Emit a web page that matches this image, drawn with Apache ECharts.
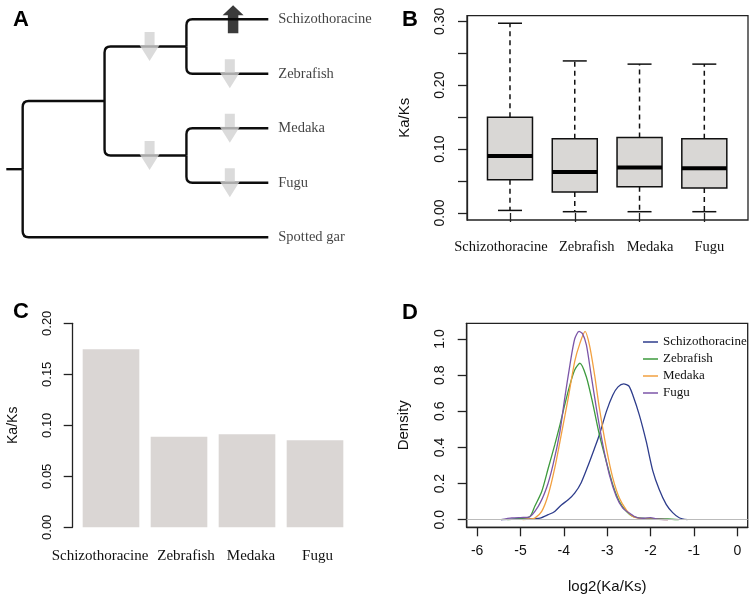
<!DOCTYPE html>
<html><head><meta charset="utf-8">
<script src="https://cdn.jsdelivr.net/npm/echarts@6/dist/echarts.min.js"></script>
<style>html,body{margin:0;padding:0;background:#fff}#c{width:752px;height:604px}</style>
</head><body><div id="c"></div>
<script>
// ================= DATA =================
const species = ['Schizothoracine', 'Zebrafish', 'Medaka', 'Fugu'];

// Panel A: phylogenetic tree (node index: parent, depth, tip order)
const treeNodeNames = ['root', 'ingroup', 'cyprinids', 'percomorphs', 'Schizothoracine', 'Zebrafish', 'Medaka', 'Fugu', 'Spotted gar'];
const treeParent = [-1, 0, 1, 1, 2, 2, 3, 3, 0];
const treeDepth = [0, 1, 2, 2, 3, 3, 3, 3, 3];
const treeTipOrder = [null, null, null, null, 0, 1, 2, 3, 4];
const rootStubDepth = -0.2;
// Arrows on branches (branch given by its child node)
const arrowNode = [2, 3, 5, 6, 7, 4];
const arrowDepth = [1.55, 1.55, 2.53, 2.53, 2.53, 2.57];
const arrowDir = ['down', 'down', 'down', 'down', 'down', 'up'];

// Panel B: boxplot statistics of Ka/Ks
const boxMin = [0.004, 0.002, 0.002, 0.002];
const boxQ1 = [0.052, 0.033, 0.041, 0.039];
const boxMedian = [0.089, 0.064, 0.071, 0.070];
const boxQ3 = [0.150, 0.116, 0.118, 0.116];
const boxMax = [0.297, 0.238, 0.233, 0.233];
const boxTicks = [0, 0.05, 0.10, 0.15, 0.20, 0.25, 0.30];
const boxTickLabels = [0, 0.10, 0.20, 0.30];

// Panel C: mean Ka/Ks
const meanKaKs = [0.1745, 0.0888, 0.0912, 0.0853];
const barTicks = [0, 0.05, 0.10, 0.15, 0.20];

// Panel D: density of log2(Ka/Ks)  [x, density]
const densSchizo = [[-5.45,0],[-5.1,0.004],[-4.8,0.006],[-4.55,0.009],[-4.36,0.028],[-4.21,0.046],[-4.05,0.083],[-3.9,0.11],[-3.75,0.147],[-3.6,0.205],[-3.44,0.3],[-3.3,0.39],[-3.18,0.47],[-3.02,0.598],[-2.87,0.69],[-2.75,0.735],[-2.62,0.752],[-2.5,0.74],[-2.41,0.69],[-2.26,0.58],[-2.1,0.433],[-1.95,0.272],[-1.8,0.167],[-1.64,0.085],[-1.49,0.039],[-1.34,0.011],[-1.15,0]];
const densZebra = [[-5.3,0],[-5.0,0.006],[-4.78,0.018],[-4.67,0.074],[-4.51,0.156],[-4.36,0.285],[-4.21,0.414],[-4.09,0.525],[-3.98,0.635],[-3.86,0.746],[-3.75,0.829],[-3.63,0.866],[-3.48,0.79],[-3.33,0.64],[-3.18,0.47],[-3.02,0.322],[-2.87,0.193],[-2.72,0.101],[-2.56,0.046],[-2.41,0.018],[-2.2,0.008],[-1.9,0.006],[-1.6,0.004],[-1.35,0]];
const densMedaka = [[-4.95,0],[-4.8,0.004],[-4.67,0.009],[-4.51,0.046],[-4.36,0.138],[-4.21,0.285],[-4.06,0.47],[-3.9,0.672],[-3.75,0.875],[-3.63,0.976],[-3.51,1.042],[-3.41,0.967],[-3.29,0.80],[-3.18,0.617],[-3.02,0.396],[-2.87,0.23],[-2.72,0.12],[-2.56,0.055],[-2.41,0.018],[-2.2,0.006],[-1.9,0.003],[-1.6,0]];
const densFugu = [[-5.45,0],[-5.2,0.01],[-5.0,0.012],[-4.82,0.013],[-4.59,0.074],[-4.4,0.175],[-4.25,0.304],[-4.09,0.488],[-3.98,0.672],[-3.86,0.856],[-3.75,1.0],[-3.65,1.042],[-3.57,1.03],[-3.48,0.967],[-3.37,0.80],[-3.25,0.617],[-3.1,0.414],[-2.95,0.249],[-2.79,0.129],[-2.64,0.064],[-2.49,0.037],[-2.33,0.013],[-2.15,0.008],[-2.0,0.012],[-1.85,0.004],[-1.6,0]];
const densXTicks = [-6, -5, -4, -3, -2, -1, 0];
const densYTicks = [0, 0.2, 0.4, 0.6, 0.8, 1.0];

// ================= STYLE =================
const SANS = '"Liberation Sans", Arial, Helvetica, sans-serif';
const SERIF = '"Liberation Serif", "Times New Roman", serif';
const INK = '#111111';
const densColors = ['#2E3D8C', '#3D9A3D', '#F2A040', '#7C56A8'];

// ---- derived tree geometry (in data units) ----
const treeY = treeNodeNames.map(() => 0);
for (let i = treeNodeNames.length - 1; i >= 0; i--) {
  if (treeTipOrder[i] !== null) { treeY[i] = treeTipOrder[i]; continue; }
  const ys = [];
  treeParent.forEach((p, j) => { if (p === i) ys.push(treeY[j]); });
  treeY[i] = (Math.min(...ys) + Math.max(...ys)) / 2;
}
const treeEdges = [[rootStubDepth, treeY[0], treeDepth[0], treeY[0]]];
treeParent.forEach((p, j) => { if (p >= 0) treeEdges.push([treeDepth[p], treeY[p], treeDepth[j], treeY[j]]); });
const tipPoints = [];
treeTipOrder.forEach((t, i) => { if (t !== null) tipPoints.push({ name: treeNodeNames[i], value: [treeDepth[i], treeY[i]] }); });

const downArrow = 'path://M5,0 L15,0 L15,13 L20,13 L10,29 L0,13 L5,13 Z';
const upArrow = 'path://M10,0 L20,10 L15,10 L15,28 L5,28 L5,10 L0,10 Z';
const arrowPoints = arrowNode.map((n, k) => ({
  value: [arrowDepth[k], treeY[n]],
  symbol: arrowDir[k] === 'up' ? upArrow : downArrow,
  symbolSize: arrowDir[k] === 'up' ? [21, 28] : [20, 29],
  itemStyle: { color: arrowDir[k] === 'up' ? '#0a0a0a' : '#D2D2D2' }
}));

function richOffsets(shifts) {
  const rich = {};
  shifts.forEach((s, i) => {
    rich['o' + i] = { padding: s < 0 ? [0, -2 * s, 0, 0] : [0, 0, 0, 2 * s] };
  });
  return rich;
}

const chart = echarts.init(document.getElementById('c'), null, { renderer: 'canvas' });

const titleStyle = { fontFamily: SANS, fontSize: 22, fontWeight: 'bold', color: '#000' };
const axLine = { show: true, onZero: false, lineStyle: { color: '#222', width: 1.3 } };
const option = {
  backgroundColor: '#fff',
  animation: false,
  title: [
    { text: 'A', left: 13, top: 9, padding: 0, textStyle: titleStyle },
    { text: 'B', left: 402, top: 9, padding: 0, textStyle: titleStyle },
    { text: 'C', left: 13, top: 301, padding: 0, textStyle: titleStyle },
    { text: 'D', left: 402, top: 302, padding: 0, textStyle: titleStyle }
  ],
  legend: {
    data: species, orient: 'vertical', left: 643, top: 335, padding: 0,
    icon: 'rect', itemWidth: 15, itemHeight: 1.5, itemGap: 3,
    textStyle: { fontFamily: SERIF, fontSize: 13, color: INK, lineHeight: 14 }
  },
  grid: [
    { left: 6.3, top: 19.3, width: 262, height: 218 },                       // 0 tree
    { left: 467, top: 15.7, width: 281, height: 204.3, show: true, borderColor: '#222', borderWidth: 1.3 }, // 1 B frame
    { left: 477.6, top: 15.7, width: 259.1, height: 204.3 },                // 2 B boxes
    { left: 77, top: 323.3, width: 272, height: 204 },                      // 3 C
    { left: 466.7, top: 323.3, width: 281, height: 204, show: true, borderColor: '#222', borderWidth: 1.3 } // 4 D
  ],
  xAxis: [
    { gridIndex: 0, type: 'value', min: rootStubDepth, max: 3, show: false },
    { gridIndex: 1, type: 'value', min: 0, max: 1, show: false },
    { gridIndex: 2, type: 'category', data: species,
      axisLine: { show: false },
      axisTick: { show: true, alignWithLabel: true, length: 9, lineStyle: { color: '#222', width: 1.3 } },
      axisLabel: { interval: 0, margin: 20, fontFamily: SERIF, fontSize: 14.5, color: INK,
        formatter: (v, i) => '{o' + i + '|' + v + '}', rich: richOffsets([-9, 12, 10.5, 5]) } },
    { gridIndex: 3, type: 'category', data: species,
      axisLine: { show: false }, axisTick: { show: false },
      axisLabel: { interval: 0, margin: 21, fontFamily: SERIF, fontSize: 15, color: INK,
        formatter: (v, i) => '{o' + i + '|' + v + '}', rich: richOffsets([-11, 7, 4, 2.5]) } },
    { gridIndex: 4, type: 'value', min: -6.24, max: 0.24,
      axisLine: axLine,
      axisTick: { show: true, customValues: densXTicks, length: 9, lineStyle: { color: '#222', width: 1.3 } },
      axisLabel: { customValues: densXTicks, margin: 17, fontFamily: SANS, fontSize: 14, color: INK },
      splitLine: { show: false },
      name: 'log2(Ka/Ks)', nameLocation: 'middle', nameGap: 52,
      nameTextStyle: { fontFamily: SANS, fontSize: 15, color: INK } }
  ],
  yAxis: [
    { gridIndex: 0, type: 'value', min: 0, max: 4, inverse: true, show: false },
    { gridIndex: 1, type: 'value', min: -0.011, max: 0.3088,
      axisLine: axLine,
      axisTick: { show: true, customValues: boxTicks, length: 9, lineStyle: { color: '#222', width: 1.3 } },
      axisLabel: { customValues: boxTickLabels, rotate: 90, margin: 20, fontFamily: SANS, fontSize: 14, color: INK,
        formatter: v => v.toFixed(2) },
      splitLine: { show: false },
      name: 'Ka/Ks', nameLocation: 'middle', nameGap: 55, nameRotate: 90,
      nameTextStyle: { fontFamily: SANS, fontSize: 15, color: INK } },
    { gridIndex: 2, type: 'value', min: -0.011, max: 0.3088, show: false },
    { gridIndex: 3, type: 'value', min: 0, max: 0.2, interval: 0.05, offset: 4.3,
      axisLine: axLine,
      axisTick: { show: true, length: 9, lineStyle: { color: '#222', width: 1.3 } },
      axisLabel: { rotate: 90, margin: 19, fontFamily: SANS, fontSize: 13, color: INK,
        formatter: v => v.toFixed(2) },
      splitLine: { show: false },
      name: 'Ka/Ks', nameLocation: 'middle', nameGap: 53, nameRotate: 90,
      nameTextStyle: { fontFamily: SANS, fontSize: 14, color: INK } },
    { gridIndex: 4, type: 'value', min: -0.042, max: 1.087,
      axisLine: axLine,
      axisTick: { show: true, customValues: densYTicks, length: 9, lineStyle: { color: '#222', width: 1.3 } },
      axisLabel: { customValues: densYTicks, rotate: 90, margin: 20, fontFamily: SANS, fontSize: 14, color: INK,
        formatter: v => v.toFixed(1) },
      splitLine: { show: false },
      name: 'Density', nameLocation: 'middle', nameGap: 55, nameRotate: 90,
      nameTextStyle: { fontFamily: SANS, fontSize: 15, color: INK } }
  ],
  series: [
    // ---- A: tree ----
    { type: 'custom', xAxisIndex: 0, yAxisIndex: 0, data: treeEdges, encode: { x: [0, 2], y: [1, 3] }, silent: true,
      renderItem: (params, api) => {
        const p0 = api.coord([api.value(0), api.value(1)]);
        const p2 = api.coord([api.value(2), api.value(3)]);
        const x0 = p0[0], y0 = p0[1], x2 = p2[0], y2 = p2[1];
        const dy = y2 - y0;
        let d;
        if (Math.abs(dy) < 1) d = `M${x0} ${y0}L${x2} ${y2}`;
        else {
          const r = 6, s = Math.sign(dy);
          d = `M${x0} ${y0}L${x0} ${y2 - s * r}Q${x0} ${y2} ${x0 + r} ${y2}L${x2} ${y2}`;
        }
        return { type: 'path', shape: { pathData: d }, style: { fill: 'none', stroke: '#0d0d0d', lineWidth: 2.4, lineJoin: 'round' } };
      } },
    { type: 'scatter', xAxisIndex: 0, yAxisIndex: 0, data: tipPoints, symbolSize: 0, silent: true,
      label: { show: true, position: 'right', distance: 10, formatter: p => p.name,
        fontFamily: SERIF, fontSize: 14.5, color: INK } },
    { type: 'scatter', xAxisIndex: 0, yAxisIndex: 0, data: arrowPoints, silent: true, z: 5 },
    // ---- B: boxplot ----
    { type: 'custom', xAxisIndex: 2, yAxisIndex: 2, silent: true,
      data: species.map((s, i) => [i, boxMin[i], boxQ1[i], boxMedian[i], boxQ3[i], boxMax[i]]),
      encode: { x: 0, y: [1, 2, 3, 4, 5] },
      renderItem: (params, api) => {
        const i = api.value(0);
        const P = v => api.coord([i, v]);
        const cx = P(0)[0];
        const yMin = P(api.value(1))[1], yQ1 = P(api.value(2))[1], yMed = P(api.value(3))[1],
              yQ3 = P(api.value(4))[1], yMax = P(api.value(5))[1];
        const hw = 22.5, cw = 12;
        const ls = { stroke: '#111', lineWidth: 1.5 };
        return { type: 'group', children: [
          { type: 'line', shape: { x1: cx, y1: yQ3, x2: cx, y2: yMax }, style: Object.assign({ lineDash: [5, 4] }, ls) },
          { type: 'line', shape: { x1: cx, y1: yQ1, x2: cx, y2: yMin }, style: Object.assign({ lineDash: [5, 4] }, ls) },
          { type: 'line', shape: { x1: cx - cw, y1: yMax, x2: cx + cw, y2: yMax }, style: ls },
          { type: 'line', shape: { x1: cx - cw, y1: yMin, x2: cx + cw, y2: yMin }, style: ls },
          { type: 'rect', shape: { x: cx - hw, y: yQ3, width: 2 * hw, height: yQ1 - yQ3 }, style: { fill: '#D9D7D5', stroke: '#111', lineWidth: 1.5 } },
          { type: 'line', shape: { x1: cx - hw, y1: yMed, x2: cx + hw, y2: yMed }, style: { stroke: '#000', lineWidth: 4 } }
        ] };
      } },
    // ---- C: bars ----
    { type: 'bar', xAxisIndex: 3, yAxisIndex: 3, data: meanKaKs, barWidth: '83.3%', silent: true,
      itemStyle: { color: '#DAD6D4' } },
    // ---- D: densities ----
    { type: 'line', name: species[0], xAxisIndex: 4, yAxisIndex: 4, data: densSchizo, showSymbol: false, smooth: 0.25,
      color: densColors[0], lineStyle: { width: 1.3 }, silent: true, z: 3,
      markLine: { silent: true, symbol: 'none', label: { show: false }, lineStyle: { color: '#BBBBBB', type: 'solid', width: 1 },
        data: [{ yAxis: 0 }] } },
    { type: 'line', name: species[1], xAxisIndex: 4, yAxisIndex: 4, data: densZebra, showSymbol: false, smooth: 0.25,
      color: densColors[1], lineStyle: { width: 1.3 }, silent: true, z: 3 },
    { type: 'line', name: species[2], xAxisIndex: 4, yAxisIndex: 4, data: densMedaka, showSymbol: false, smooth: 0.25,
      color: densColors[2], lineStyle: { width: 1.3 }, silent: true, z: 3 },
    { type: 'line', name: species[3], xAxisIndex: 4, yAxisIndex: 4, data: densFugu, showSymbol: false, smooth: 0.25,
      color: densColors[3], lineStyle: { width: 1.3 }, silent: true, z: 3 }
  ]
};
chart.setOption(option);
</script>
</body></html>
